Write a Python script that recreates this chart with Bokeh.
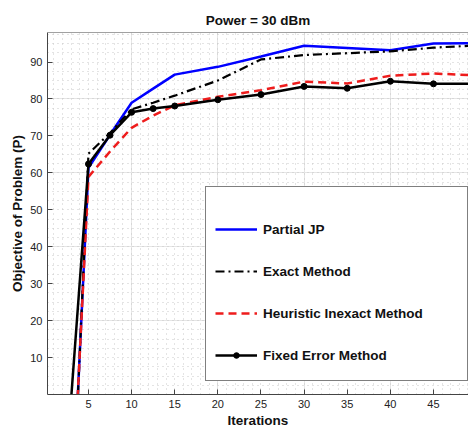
from bokeh.plotting import figure
from bokeh.models import (Legend, LegendItem, LinearAxis, FixedTicker, Range1d, Grid, Span)
from bokeh.embed import file_html
from bokeh.resources import INLINE

# ---- data ----
iterations = [1, 5, 7.5, 10, 12.5, 15, 20, 25, 30, 35, 40, 45, 50]
partial_jp = [-138, 61.4, 70.3, 79.0, 82.8, 86.6, 88.7, 91.5, 94.4, 93.8, 93.2, 95.0, 95.1]
exact_method = [-149, 65.2, 70.8, 77.2, 79.0, 80.9, 85.0, 90.7, 91.9, 92.4, 92.9, 93.9, 94.5]
heuristic_inexact = [-131, 58.9, 65.8, 72.2, 75.5, 78.3, 80.6, 82.4, 84.7, 84.2, 86.3, 86.9, 86.4]
fixed_error = [-64, 62.4, 70.2, 76.4, 77.4, 78.1, 79.8, 81.2, 83.4, 82.9, 84.8, 84.1, 84.1]

x_ticks = [5, 10, 15, 20, 25, 30, 35, 40, 45]
y_ticks = [10, 20, 30, 40, 50, 60, 70, 80, 90]
x_minor = [i for i in range(1, 50) if i % 5 != 0]
y_minor = [2.5 * k for k in range(1, 40) if (2.5 * k) % 10 != 0]
x_lim = (0.25, 49.06)
y_lim = (0, 98)

title_text = "Power = 30 dBm"
x_label = "Iterations"
y_label = "Objective of Problem (P)"
names = ["Partial JP", "Exact Method", "Heuristic Inexact Method", "Fixed Error Method"]

FONT = "Liberation Sans"
AXC = "#444444"
GRIDC = "#c8c8c8"

p = figure(width=468, height=430, output_backend="svg", toolbar_location=None,
           x_range=Range1d(*x_lim), y_range=Range1d(*y_lim),
           min_border_left=47, min_border_right=0, min_border_top=32,
           min_border_bottom=35, x_axis_location=None, y_axis_location=None)

p.title.text = title_text
p.title.text_font = FONT
p.title.text_font_size = "13.5px"
p.title.text_font_style = "bold"
p.title.align = "center"
p.title.text_color = "#111111"

p.outline_line_color = None
p.background_fill_color = "white"
p.border_fill_color = "white"

xt = FixedTicker(ticks=x_ticks, minor_ticks=x_minor)
yt = FixedTicker(ticks=y_ticks, minor_ticks=y_minor)


def style_axis(ax):
    ax.axis_line_color = AXC
    ax.axis_line_width = 1
    ax.major_tick_in = 5
    ax.major_tick_out = 0
    ax.major_tick_line_color = AXC
    ax.minor_tick_in = 0
    ax.minor_tick_out = 0
    ax.major_label_text_font = FONT
    ax.major_label_text_font_size = "11px"
    ax.major_label_text_color = "#222222"
    ax.major_label_standoff = 5
    ax.axis_label_text_font = FONT
    ax.axis_label_text_font_size = "13.5px"
    ax.axis_label_text_font_style = "bold"
    ax.axis_label_text_color = "#111111"


xaxis = LinearAxis(ticker=xt, axis_label=x_label)
style_axis(xaxis)
xaxis.axis_label_standoff = 2
p.add_layout(xaxis, "below")

yaxis = LinearAxis(ticker=yt, axis_label=y_label)
style_axis(yaxis)
yaxis.axis_label_standoff = 2
p.add_layout(yaxis, "left")

# top border of the axes box
p.add_layout(Span(location=y_lim[1], dimension="width", line_color=AXC, line_width=1))

gx = Grid(dimension=0, ticker=xt, grid_line_color=GRIDC, grid_line_dash="1 4",
          minor_grid_line_color=GRIDC, minor_grid_line_dash="1 4")
gy = Grid(dimension=1, ticker=yt, grid_line_color=GRIDC, grid_line_dash="1 4",
          minor_grid_line_color=GRIDC, minor_grid_line_dash="1 4")
p.add_layout(gx)
p.add_layout(gy)

r_blue = p.line(iterations, partial_jp, line_color="#0000ff", line_width=2.5)
r_dd = p.line(iterations, exact_method, line_color="black", line_width=2.2,
              line_dash="9 4 2 4")
r_red = p.line(iterations, heuristic_inexact, line_color="#ee1c1c", line_width=2.5,
               line_dash="8 5")
r_blk = p.line(iterations, fixed_error, line_color="black", line_width=2.5)
r_blk_m = p.scatter(iterations, fixed_error, marker="circle", size=6,
                    fill_color="black", line_color="black")

legend = Legend(items=[
    LegendItem(label=names[0], renderers=[r_blue]),
    LegendItem(label=names[1], renderers=[r_dd]),
    LegendItem(label=names[2], renderers=[r_red]),
    LegendItem(label=names[3], renderers=[r_blk, r_blk_m]),
], location=(158, 13))
legend.title = " "
legend.title_text_font_size = "8px"
legend.title_standoff = 8
legend.padding = 9
legend.spacing = 10
legend.label_height = 32
legend.glyph_height = 14
legend.glyph_width = 42
legend.label_width = 195
legend.label_standoff = 6
legend.label_text_font = FONT
legend.label_text_font_size = "13.5px"
legend.label_text_font_style = "bold"
legend.label_text_color = "#111111"
legend.border_line_color = "black"
legend.border_line_width = 1
legend.background_fill_color = "white"
legend.background_fill_alpha = 1.0
legend.margin = 0
p.add_layout(legend, "center")

open("out.html", "w").write(file_html(p, INLINE))
